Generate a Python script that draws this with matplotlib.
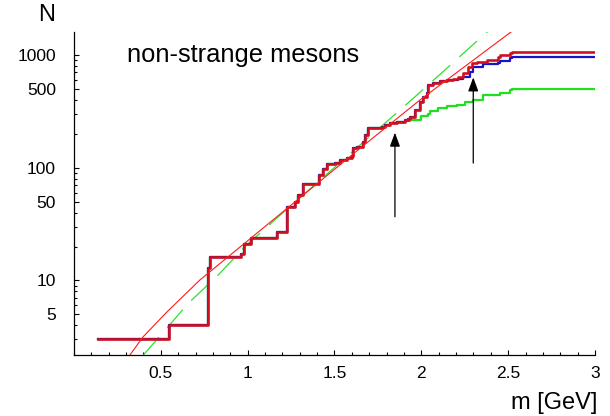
import numpy as np
import matplotlib.pyplot as plt
from matplotlib.ticker import FixedLocator, MultipleLocator, NullFormatter

plt.rcParams['font.family'] = ['Liberation Sans', 'DejaVu Sans']

common_m = [0.14, 0.549, 0.770, 0.783, 0.961, 0.979, 1.022, 1.169, 1.229, 1.272, 1.29, 1.32,
            1.412, 1.432, 1.455, 1.503, 1.531, 1.57, 1.599, 1.605, 1.627, 1.666, 1.675, 1.694,
            1.771, 1.79, 1.819]
common_n = [3, 4, 13, 16, 17, 21, 24, 27, 45, 50, 57, 72,
            86, 97, 108, 111, 117, 121, 127, 150, 152, 170, 195, 224,
            231, 239, 248]

red_tail_m = [1.858, 1.906, 1.925, 1.934, 1.963, 1.992, 2.011, 2.031, 2.04, 2.069, 2.107, 2.146,
              2.184, 2.212, 2.241, 2.27, 2.29, 2.318, 2.376, 2.443, 2.453, 2.51, 2.52]
red_tail_n = [256, 265, 269, 284, 325, 385, 427, 457, 542, 561, 585, 600,
              609, 641, 688, 788, 854, 872, 903, 966, 1000, 1035, 1063]

blue_tail_m = [2.184, 2.212, 2.241, 2.28, 2.299, 2.356, 2.443, 2.453, 2.51, 2.52]
blue_tail_n = [605, 615, 634, 711, 788, 832, 854, 890, 935, 954]

green_tail_m = [1.858, 1.906, 1.934, 2.0, 2.04, 2.05, 2.097, 2.146, 2.203, 2.251, 2.299,
                2.356, 2.453, 2.51, 2.52]
green_tail_n = [254, 258, 265, 285, 300, 321, 337, 353, 364, 385, 403,
                442, 465, 489, 499]

m_end = 3.0

# fitted curves
fit_red_m = [0.322, 0.397, 0.535, 0.725, 1.272, 1.635, 1.992, 2.516, 2.6]
fit_red_n = [2.18, 3.15, 5.25, 10.1, 49.7, 143.6, 399, 1600, 2000]
fit_green_m = [0.399, 0.495, 0.658, 0.831, 0.984, 1.176, 1.965, 2.151, 2.374, 2.45]
fit_green_n = [2.18, 3.21, 6.27, 11.2, 19.9, 36.7, 428, 774, 1578, 2000]

# arrows
arrow_m = [1.848, 2.299]
arrow_tail = [36.7, 110]
arrow_tip = [205, 634]

n_blue_shared = 12  # blue follows red up to m = 2.146

red_m = common_m + red_tail_m + [m_end]
red_n = common_n + red_tail_n + [red_tail_n[-1]]
blue_m = common_m + red_tail_m[:n_blue_shared] + blue_tail_m + [m_end]
blue_n = common_n + red_tail_n[:n_blue_shared] + blue_tail_n + [blue_tail_n[-1]]
green_m = common_m + green_tail_m + [m_end]
green_n = common_n + green_tail_n + [green_tail_n[-1]]

fig = plt.figure(figsize=(6.1, 4.16), dpi=100)
ax = fig.add_axes([0.1213, 0.1466, 0.8541, 0.7764])

ax.plot(fit_green_m, fit_green_n, color='#2ee02e', lw=0.9, ls=(0, (19, 10)))
ax.step(green_m, green_n, where='post', color='#1ee01e', lw=1.6)
ax.step(blue_m, blue_n, where='post', color='#1414c8', lw=1.6)
ax.step(red_m, red_n, where='post', color='#d0101e', lw=1.9)
ax.plot(fit_red_m, fit_red_n, color='#ff1a1a', lw=0.8)

for xm, y0, y1 in zip(arrow_m, arrow_tail, arrow_tip):
    ax.annotate('', xy=(xm, y1), xytext=(xm, y0),
                arrowprops=dict(arrowstyle='-|>,head_length=0.6,head_width=0.22',
                                color='black', lw=0.9, mutation_scale=14,
                                shrinkA=0, shrinkB=0))

ax.set_yscale('log')
ax.set_xlim(0, 3)
ax.set_ylim(2.18, 1600)

ax.spines['top'].set_visible(False)
ax.spines['right'].set_visible(False)
ax.spines['left'].set_linewidth(0.9)
ax.spines['bottom'].set_linewidth(0.9)

ax.xaxis.set_major_locator(FixedLocator([0.5, 1, 1.5, 2, 2.5, 3]))
ax.xaxis.set_minor_locator(MultipleLocator(0.1))
ax.set_xticklabels(['0.5', '1', '1.5', '2', '2.5', '3'])

ax.yaxis.set_major_locator(FixedLocator([5, 10, 50, 100, 500, 1000]))
ax.set_yticklabels(['5', '10', '50', '100', '500', '1000'])
minor_y = [k * 10 ** e for e in range(0, 4) for k in range(1, 10)]
ax.yaxis.set_minor_locator(FixedLocator(minor_y))
ax.yaxis.set_minor_formatter(NullFormatter())

ax.tick_params(which='both', direction='in', labelsize=12.5, width=0.8)
ax.tick_params(which='major', length=3.5)
ax.tick_params(which='minor', length=2.2)
ax.tick_params(axis='y', which='major', pad=13)
ax.tick_params(axis='x', which='major', pad=8)

fig.text(0.0766, 0.963, 'N', fontsize=17, ha='center', va='center')
fig.text(0.908, 0.031, 'm [GeV]', fontsize=17, ha='center', va='center')
fig.text(0.209, 0.850, 'non-strange mesons', fontsize=18.4, ha='left', va='baseline')

fig.savefig('out.png', dpi=100)
